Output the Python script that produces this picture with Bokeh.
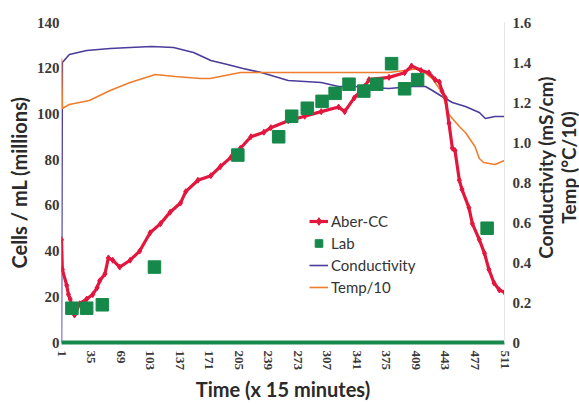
import math

from bokeh.core.properties import value
from bokeh.embed import file_html
from bokeh.layouts import row
from bokeh.models import FixedTicker, Legend, LegendItem, LinearAxis, Range1d
from bokeh.plotting import figure
from bokeh.resources import INLINE

# Time axis (units of 15 minutes)
time_ticks = [1, 35, 69, 103, 137, 171, 205, 239, 273, 307, 341, 375, 409, 443, 477, 511]
cell_ticks = [0, 20, 40, 60, 80, 100, 120, 140]
right_ticks = [0, 0.2, 0.4, 0.6, 0.8, 1.0, 1.2, 1.4, 1.6]
right_tick_labels = ["0", "0.2", "0.4", "0.6", "0.8", "1.0", "1.2", "1.4", "1.6"]
right_titles = ["Conductivity (mS/cm)", "Temp (°C/10)"]

# Aber-CC cell density (millions / mL)
aber_t = [1, 2, 7, 9, 11, 16, 22, 30, 37, 42, 45, 51, 55, 60, 68, 80, 91, 103,
          115, 126, 138, 144, 158, 173, 184, 196, 207, 219, 234, 242, 262, 281,
          300, 320, 327, 338, 350, 355, 378, 396, 404, 415, 424, 431, 436, 439,
          443, 447, 451, 454, 459, 462, 470, 474, 482, 488, 493, 499, 505, 511]
aber_v = [45, 32, 25, 21, 19, 12, 17, 19, 21, 24, 27, 30, 37, 36, 33, 36, 40, 48,
          52, 57, 61, 66, 71, 73, 77, 81, 85, 90, 92, 94, 97, 99,
          101, 103, 101, 107, 112, 115, 116, 118, 121, 119, 118, 115, 114, 110,
          107, 96, 85, 84, 71, 67, 59, 52, 45, 39, 32, 26, 23, 22]

# Laboratory counts (millions / mL)
lab_t = [13, 30, 48, 108, 204, 251, 266, 284, 301, 316, 332, 349, 364, 381, 396, 411, 491]
lab_v = [15, 15, 16.5, 33, 82, 90, 99, 102.5, 105.5, 109, 113, 110, 113, 122, 111, 115, 50]

# Conductivity (mS/cm)
cond_t = [1, 2, 10, 30, 57, 80, 105, 130, 153, 173, 192, 210, 231, 262, 300,
          320, 338, 378, 404, 420, 428, 439, 451, 466, 482, 489, 500, 511]
cond_v = [0, 1.40, 1.44, 1.46, 1.47, 1.475, 1.48, 1.475, 1.45, 1.41, 1.39, 1.37,
          1.35, 1.31, 1.30, 1.28, 1.28, 1.27, 1.28, 1.28, 1.26, 1.23, 1.20, 1.18,
          1.15, 1.12, 1.13, 1.13]

# Temperature / 10 (°C/10)
temp_t = [1, 2, 10, 33, 57, 80, 109, 132, 161, 172, 207, 231, 262, 300, 338,
          378, 396, 413, 428, 439, 447, 459, 466, 477, 482, 487, 500, 511]
temp_v = [1.42, 1.17, 1.19, 1.21, 1.26, 1.30, 1.34, 1.33, 1.32, 1.32, 1.35, 1.35,
          1.35, 1.35, 1.35, 1.35, 1.36, 1.37, 1.32, 1.25, 1.14, 1.08, 1.05, 0.98,
          0.92, 0.90, 0.89, 0.91]

RED = "#e3173e"
GREEN = "#16894a"
PURPLE = "#4a3c9a"
ORANGE = "#f07d2c"
TICK_FONT = "Liberation Serif"
TITLE_FONT = "Lato"
TICK_COLOR = "#3a3a3a"
TITLE_COLOR = "#2a2a2a"

p = figure(width=534, height=404, output_backend="svg", toolbar_location=None,
           x_range=Range1d(1, 511), y_range=Range1d(0, 140),
           min_border_left=61, min_border_right=30, min_border_top=22,
           min_border_bottom=61)
p.extra_y_ranges = {"right": Range1d(0, 1.6)}
p.outline_line_color = None
p.xgrid.visible = False
p.ygrid.visible = False


def plain_axis(ax):
    ax.major_tick_line_color = None
    ax.minor_tick_line_color = None
    ax.major_tick_out = 0
    ax.major_tick_in = 0
    ax.minor_tick_out = 0
    ax.minor_tick_in = 0
    ax.major_label_text_font = TICK_FONT
    ax.major_label_text_font_style = "bold"
    ax.major_label_text_color = TICK_COLOR
    ax.axis_label_text_font = TITLE_FONT
    ax.axis_label_text_font_style = "bold"
    ax.axis_label_text_color = TITLE_COLOR


cond_r = p.line(cond_t, cond_v, y_range_name="right", color=PURPLE, line_width=1.6)
temp_r = p.line(temp_t, temp_v, y_range_name="right", color=ORANGE, line_width=1.6)
aber_line = p.line(aber_t, aber_v, color=RED, line_width=3.2)
aber_pts = p.scatter(aber_t, aber_v, marker="diamond", size=6, color=RED)
lab_r = p.scatter(lab_t, lab_v, marker="square", size=12.5, color=GREEN)

# bottom axis: green baseline with rotated tick labels
xa = p.xaxis[0]
plain_axis(xa)
xa.ticker = FixedTicker(ticks=time_ticks)
xa.axis_line_color = GREEN
xa.axis_line_width = 4
xa.major_label_orientation = -math.pi / 2
xa.major_label_standoff = 8
xa.major_label_text_font_size = "13px"
xa.axis_label = "Time (x 15 minutes)"
xa.axis_label_text_font_size = "20px"
xa.axis_label_standoff = 4

ya = p.yaxis[0]
plain_axis(ya)
ya.ticker = FixedTicker(ticks=cell_ticks)
ya.axis_line_color = None
ya.major_label_standoff = 2
ya.major_label_text_font_size = "15px"
ya.axis_label = "Cells / mL (millions)"
ya.axis_label_text_font_size = "20px"
ya.axis_label_standoff = 3

ra = LinearAxis(y_range_name="right", ticker=FixedTicker(ticks=right_ticks))
plain_axis(ra)
ra.major_label_overrides = {t: s for t, s in zip(right_ticks, right_tick_labels)}
ra.axis_line_color = "#e6e6e6"
ra.major_label_standoff = 8
ra.major_label_text_font_size = "15px"
p.add_layout(ra, "right")

legend = Legend(items=[
    LegendItem(label="Aber-CC", renderers=[aber_line, aber_pts]),
    LegendItem(label="Lab", renderers=[lab_r]),
    LegendItem(label="Conductivity", renderers=[cond_r]),
    LegendItem(label="Temp/10", renderers=[temp_r]),
], location=(248, 45))
legend.border_line_color = None
legend.background_fill_alpha = 0
legend.padding = 0
legend.margin = 0
legend.spacing = 2
legend.glyph_width = 19
legend.glyph_height = 20
legend.label_height = 20
legend.label_standoff = 3
legend.label_text_font = TITLE_FONT
legend.label_text_font_size = "15px"
legend.label_text_color = "#333333"
p.add_layout(legend)

# narrow strip holding the two-line right-axis title, reading bottom to top
side = figure(width=45, height=404, output_backend="svg", toolbar_location=None,
              x_range=Range1d(0, 45), y_range=Range1d(0, 404),
              x_axis_type=None, y_axis_type=None, min_border=0)
side.outline_line_color = None
side.xgrid.visible = False
side.ygrid.visible = False
side.text(x=[11, 34], y=[221, 221], text=right_titles, angle=math.pi / 2,
          text_align="center", text_baseline="middle",
          text_font=value(TITLE_FONT), text_font_style="bold",
          text_font_size="19px", text_color=TITLE_COLOR)

layout = row(p, side, spacing=0)
open("out.html", "w").write(file_html(layout, INLINE))
